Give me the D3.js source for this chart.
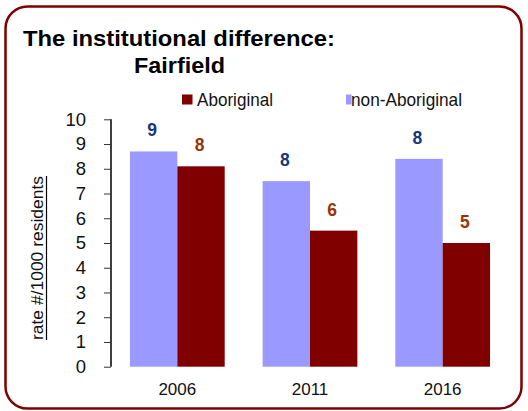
<!DOCTYPE html>
<html>
<head>
<meta charset="utf-8">
<script src="https://cdn.jsdelivr.net/npm/d3@7"></script>
<style>
  body { margin: 0; background: #fff; }
  text { font-family: "Liberation Sans", Arial, sans-serif; }
</style>
</head>
<body>
<div id="chart"></div>
<script>
// data
var years = ["2006", "2011", "2016"];
var seriesNames = ["non-Aboriginal", "Aboriginal"];
var nonAboriginal = [8.7, 7.5, 8.4];
var aboriginal = [8.1, 5.5, 5.0];
var yTicks = [0, 1, 2, 3, 4, 5, 6, 7, 8, 9, 10];

var width = 528, height = 411;
var margin = {top: 119.3, right: 19, bottom: 44.3, left: 111};

var svg = d3.select("#chart").append("svg").attr("width", width).attr("height", height);

// frame
svg.append("rect").attr("x", 5.5).attr("y", 6.5).attr("width", 516).attr("height", 402)
    .attr("rx", 22).attr("ry", 22)
    .style("fill", "none").style("stroke", "#7f0000").style("stroke-width", 2.5);

// title
svg.append("text").attr("x", 23).attr("y", 46)
    .style("font-weight", "bold").style("font-size", "22.5px")
    .attr("textLength", 312).attr("lengthAdjust", "spacingAndGlyphs")
    .text("The institutional difference:");
svg.append("text").attr("x", 134).attr("y", 73)
    .style("font-weight", "bold").style("font-size", "22.5px")
    .attr("textLength", 91).attr("lengthAdjust", "spacingAndGlyphs")
    .text("Fairfield");

var data = years.map((y, i) => ({year: y, values: [nonAboriginal[i], aboriginal[i]]}));

var x0 = d3.scaleBand().domain(years).range([margin.left, width - margin.right])
    .paddingInner(0.286).paddingOuter(0.143);
var x1 = d3.scaleBand().domain(seriesNames).range([0, x0.bandwidth()]);
var y = d3.scaleLinear().domain([0, 10]).range([height - margin.bottom, margin.top]);

var colour = {"non-Aboriginal": "#9999ff", "Aboriginal": "#800000"};
var labelColour = {"non-Aboriginal": "#17367d", "Aboriginal": "#993300"};

// y axis
var yAxis = d3.axisLeft(y).tickValues(yTicks).tickSize(7).tickPadding(18).tickFormat(d3.format("d"));
var gy = svg.append("g").attr("class", "axis").attr("transform", `translate(${margin.left},0)`).call(yAxis);
gy.select(".domain").attr("d", `M0,${y(0)}V${y(10)}`).style("stroke", "#000").style("stroke-width", 1.5);
gy.selectAll(".tick line").style("stroke", "#333");
gy.selectAll(".tick text").style("font-size", "18.5px").style("fill", "#111");

// bars
var groups = svg.selectAll("g.group").data(data).enter().append("g").attr("class", "group")
    .attr("transform", d => `translate(${x0(d.year)},0)`);

groups.selectAll("rect.bar").data(d => d.values.map((v, i) => ({name: seriesNames[i], value: v})))
    .enter().append("rect").attr("class", "bar")
    .attr("x", d => x1(d.name)).attr("width", x1.bandwidth())
    .attr("y", d => y(d.value)).attr("height", d => y(0) - y(d.value))
    .style("fill", d => colour[d.name]);

groups.selectAll("text.valueLabel").data(d => d.values.map((v, i) => ({name: seriesNames[i], value: v})))
    .enter().append("text").attr("class", "valueLabel")
    .attr("x", d => x1(d.name) + x1.bandwidth() / 2 - 1.5)
    .attr("y", d => y(d.value) - 15)
    .style("text-anchor", "middle").style("font-weight", "bold").style("font-size", "17.5px")
    .style("fill", d => labelColour[d.name])
    .text(d => d3.format(".0f")(d.value));

// x labels
svg.selectAll("text.xLabel").data(years).enter().append("text").attr("class", "xLabel")
    .attr("x", d => x0(d) + x0.bandwidth() / 2).attr("y", 395)
    .style("text-anchor", "middle").style("font-size", "17px").style("fill", "#111")
    .text(d => d);

// legend
var legend = [
    {name: "Aboriginal", sx: 182, sw: 10.5, tx: 197, tl: 76},
    {name: "non-Aboriginal", sx: 346, sw: 5.5, tx: 351, tl: 111}
];
legend.forEach(l => {
    svg.append("rect").attr("x", l.sx).attr("y", 94.5).attr("width", l.sw).attr("height", 10)
        .style("fill", colour[l.name]);
    svg.append("text").attr("x", l.tx).attr("y", 106).style("font-size", "18.5px").style("fill", "#111")
        .attr("textLength", l.tl).attr("lengthAdjust", "spacingAndGlyphs").text(l.name);
});

// y axis title (underlined)
var yt = svg.append("text").attr("transform", "translate(43,258) rotate(-90)")
    .style("text-anchor", "middle").style("font-size", "16px").style("fill", "#111")
    .attr("textLength", 164).attr("lengthAdjust", "spacingAndGlyphs")
    .text("rate #/1000 residents");
svg.append("line").attr("x1", 46.5).attr("x2", 46.5).attr("y1", 176).attr("y2", 340)
    .style("stroke", "#000").style("stroke-width", 1.2);
</script>
</body>
</html>
